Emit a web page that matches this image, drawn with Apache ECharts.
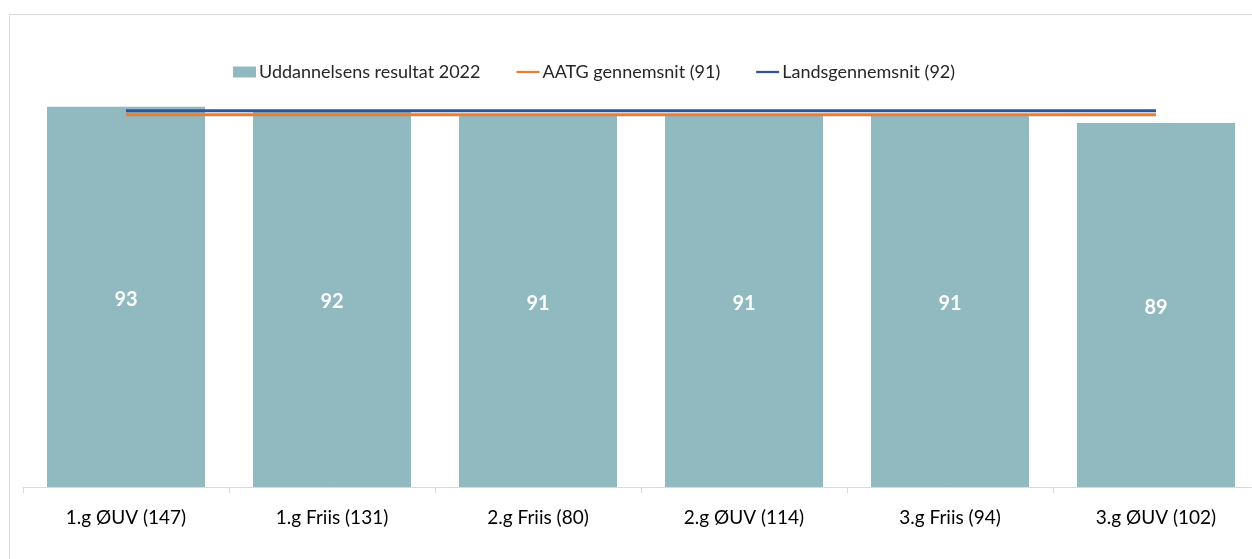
<!DOCTYPE html>
<html>
<head>
<meta charset="utf-8">
<script src="https://cdn.jsdelivr.net/npm/echarts@6/dist/echarts.min.js"></script>
<style>
html,body{margin:0;padding:0;background:#fff;}
#main{width:1252px;height:559px;}
</style>
</head>
<body>
<div id="main"></div>
<script>
// kategorier og værdier
var categories = ['1.g ØUV (147)', '1.g Friis (131)', '2.g Friis (80)', '2.g ØUV (114)', '3.g Friis (94)', '3.g ØUV (102)'];
var resultat2022 = [93, 92, 91, 91, 91, 89];
var aatgSnit = [91, 91, 91, 91, 91, 91];
var landsSnit = [92, 92, 92, 92, 92, 92];

var FONT = 'Lato';

var myChart = echarts.init(document.getElementById('main'));
var option = {
	backgroundColor: '#fff',
	animation: false,
	textStyle: {fontFamily: FONT},
	graphic: [{
		type: 'rect',
		shape: {x: 9.5, y: 14.5, width: 1270, height: 600},
		style: {fill: 'none', stroke: '#D9D9D9', lineWidth: 1},
		silent: true
	}],
	legend: {
		left: 228,
		top: 58,
		itemGap: 36,
		itemWidth: 23,
		itemHeight: 11,
		textStyle: {fontFamily: FONT, fontSize: 18, color: '#262626', padding: [0, 0, 0, -2]},
		data: [
			{name: 'Uddannelsens resultat 2022', icon: 'rect'},
			{name: 'AATG gennemsnit (91)', icon: 'path://M0,0 L10,0 L10,1 L0,1 Z'},
			{name: 'Landsgennemsnit (92)', icon: 'path://M0,0 L10,0 L10,1 L0,1 Z'}
		]
	},
	grid: {left: 23, top: 78, width: 1236, height: 409, outerBoundsMode: 'none', containLabel: false},
	xAxis: {
		type: 'category',
		data: categories,
		boundaryGap: true,
		axisLine: {lineStyle: {color: '#D9D9D9', width: 1}},
		axisTick: {show: true, length: 6, lineStyle: {color: '#D9D9D9'}},
		axisLabel: {fontFamily: FONT, fontSize: 19, color: '#000', margin: 21}
	},
	yAxis: {
		type: 'value',
		min: 0,
		max: 100,
		show: false,
		splitLine: {show: false}
	},
	series: [
		{
			name: 'Uddannelsens resultat 2022',
			type: 'bar',
			data: resultat2022,
			barWidth: 158,
			itemStyle: {color: '#90B9C0'},
			label: {
				show: true,
				position: 'inside',
				offset: [0, 3],
				color: '#fff',
				fontFamily: FONT,
				fontWeight: 'bold',
				fontSize: 20
			}
		},
		{
			name: 'AATG gennemsnit (91)',
			type: 'line',
			data: aatgSnit,
			symbol: 'none',
			lineStyle: {color: '#ED7D31', width: 3},
			itemStyle: {color: '#ED7D31'}
		},
		{
			name: 'Landsgennemsnit (92)',
			type: 'line',
			data: landsSnit,
			symbol: 'none',
			lineStyle: {color: '#2F5597', width: 3},
			itemStyle: {color: '#2F5597'}
		}
	]
};
myChart.setOption(option);
</script>
</body>
</html>
